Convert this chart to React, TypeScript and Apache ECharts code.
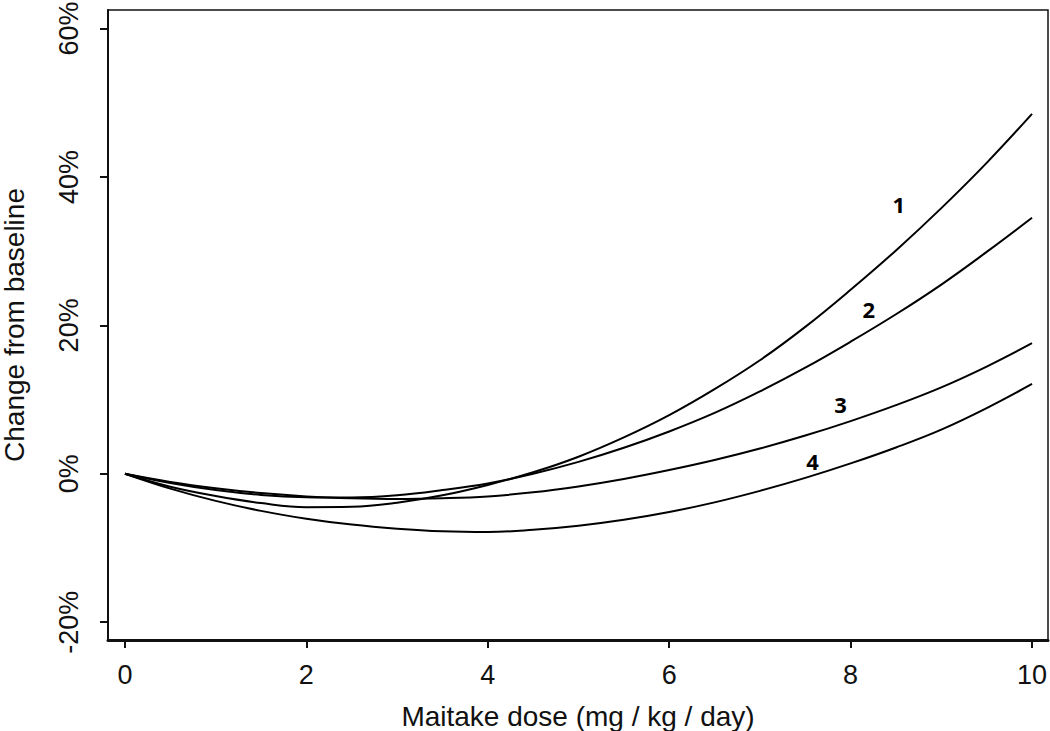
import React, { useEffect, useRef } from "react";
import * as echarts from "echarts";

const doses = [0, 0.5, 1, 1.5, 2, 2.5, 3, 3.5, 4, 4.5, 5, 5.5, 6, 6.5, 7, 7.5, 8, 8.5, 9, 9.5, 10];
const curve1 = [0, -1.75, -3.0, -3.95, -4.5, -4.45, -3.9, -2.9, -1.5, 0.2, 2.3, 4.9, 7.9, 11.4, 15.3, 19.8, 24.8, 30.1, 35.8, 41.9, 48.5];
const curve2 = [0, -1.25, -2.2, -2.85, -3.15, -3.2, -2.9, -2.2, -1.3, 0.0, 1.6, 3.5, 5.7, 8.2, 11.1, 14.3, 17.8, 21.5, 25.5, 29.9, 34.5];
const curve3 = [0, -1.1, -1.95, -2.6, -3.05, -3.3, -3.4, -3.3, -3.05, -2.5, -1.7, -0.7, 0.5, 1.85, 3.4, 5.15, 7.1, 9.25, 11.65, 14.45, 17.6];
const curve4 = [0, -2.0, -3.65, -5.0, -6.05, -6.85, -7.4, -7.75, -7.85, -7.55, -7.0, -6.2, -5.15, -3.85, -2.3, -0.55, 1.4, 3.55, 5.95, 8.85, 12.1];

const xTicks = [0, 2, 4, 6, 8, 10];
const yTicks = [-20, 0, 20, 40, 60];

const curveLabels = ["1", "2", "3", "4"];
const labelX = [8.53, 8.2, 7.89, 7.58];
const labelY = [36.3, 22.2, 9.4, 1.7];

const xTitle = "Maitake dose (mg / kg / day)";
const yTitle = "Change from baseline";

export default function App() {
  const ref = useRef<HTMLDivElement>(null);
  useEffect(() => {
    if (!ref.current) return;
    const chart = echarts.init(ref.current, null, { renderer: "svg" });
    const curves = [curve1, curve2, curve3, curve4];
    const font = "'Liberation Sans', Arial, sans-serif";
    chart.setOption({
      animation: false,
      backgroundColor: "#ffffff",
      grid: {
        left: 108,
        top: 10,
        right: 2,
        bottom: 91,
        containLabel: false,
        outerBoundsMode: "none",
        show: true,
        borderColor: "#111",
        borderWidth: 1.5,
        backgroundColor: "transparent",
      },
      xAxis: {
        type: "value",
        min: -0.187,
        max: 10.176,
        splitLine: { show: false },
        axisLine: { show: true, onZero: false, lineStyle: { color: "#111", width: 3 } },
        axisTick: {
          show: true,
          customValues: xTicks,
          length: 8,
          inside: false,
          lineStyle: { color: "#111", width: 2 },
        },
        axisLabel: {
          show: true,
          customValues: xTicks,
          margin: 21,
          fontSize: 27,
          color: "#111",
          fontFamily: font,
          formatter: (v: number) => String(v),
        },
        name: xTitle,
        nameLocation: "middle",
        nameGap: 62,
        nameTextStyle: { fontSize: 28, color: "#111", fontFamily: font },
      },
      yAxis: {
        type: "value",
        min: -22.4,
        max: 62.5,
        splitLine: { show: false },
        axisLine: { show: true, onZero: false, lineStyle: { color: "#111", width: 2 } },
        axisTick: {
          show: true,
          customValues: yTicks,
          length: 8,
          inside: false,
          lineStyle: { color: "#111", width: 2 },
        },
        axisLabel: {
          show: true,
          customValues: yTicks,
          rotate: 90,
          margin: 26,
          fontSize: 27,
          color: "#111",
          fontFamily: font,
          formatter: (v: number) => v + "%",
        },
        name: yTitle,
        nameLocation: "middle",
        nameRotate: 90,
        nameGap: 80,
        nameTextStyle: { fontSize: 28, color: "#111", fontFamily: font },
      },
      series: [
        ...curves.map((c, k) => ({
          type: "line",
          name: curveLabels[k],
          data: doses.map((d, i) => [d, c[i]]),
          smooth: 0.4,
          showSymbol: false,
          symbol: "none",
          lineStyle: { color: "#000", width: 2 },
          z: 3,
        })),
        {
          type: "scatter",
          symbolSize: 1,
          itemStyle: { opacity: 0 },
          data: curveLabels.map((t, i) => ({ value: [labelX[i], labelY[i]], name: t })),
          label: {
            show: true,
            position: "inside",
            formatter: (p: any) => p.name,
            fontSize: 22,
            fontWeight: "bold",
            color: "#000",
            opacity: 1,
            fontFamily: "'Open Sans', 'Liberation Sans', sans-serif",
          },
          z: 4,
        },
      ],
    });
    return () => chart.dispose();
  }, []);
  return (
    <div
      ref={ref}
      style={{ position: "fixed", left: 0, top: 0, width: 1050, height: 731 }}
    />
  );
}
